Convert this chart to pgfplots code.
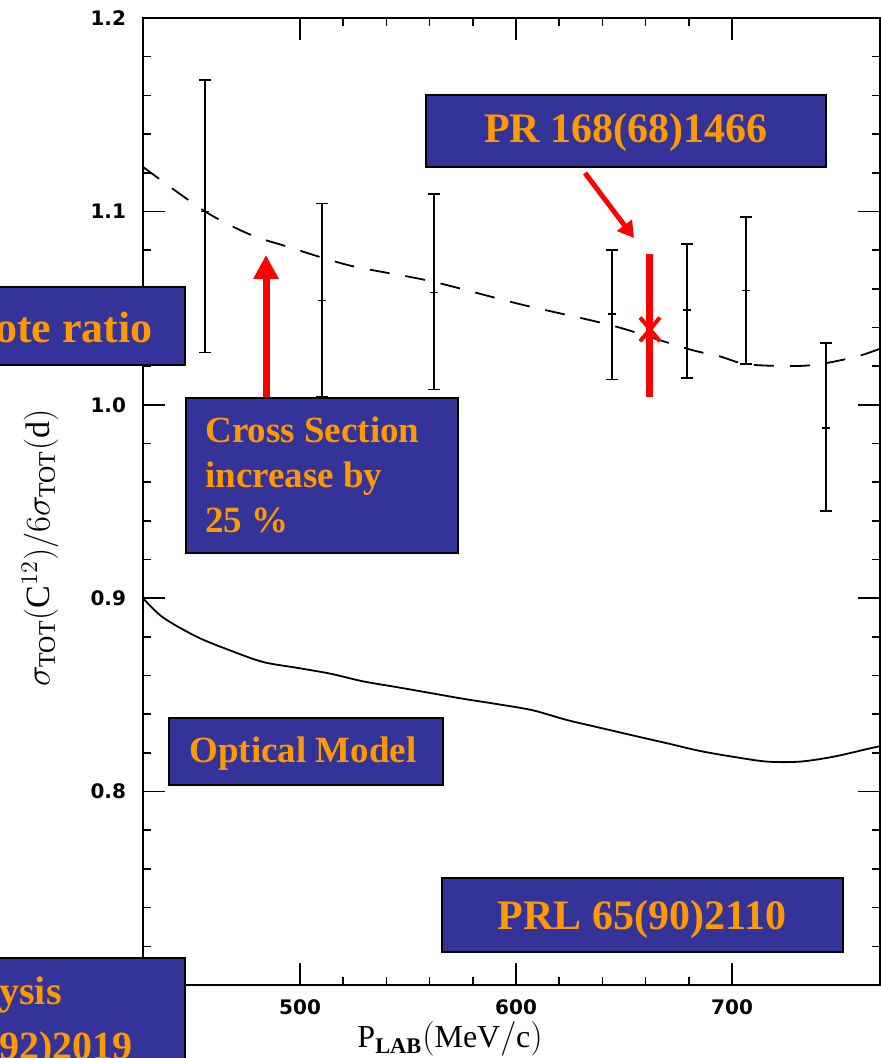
\documentclass[border=0pt]{standalone}
\usepackage{fontspec}
\setmainfont{Liberation Serif}
\newfontfamily\tickfont{DejaVu Sans}
\usepackage{pgfplots}
\usepackage{pgfplotstable}
\pgfplotsset{compat=1.18}
\usetikzlibrary{arrows.meta}

\definecolor{boxblue}{RGB}{51,51,153}
\definecolor{boxorange}{RGB}{255,153,0}

\tikzset{
  ann/.style={draw=black, line width=1pt, fill=boxblue},
  anntext/.style={text=boxorange, inner sep=0pt},
}

% measured points: x, ratio, upper and lower error
\pgfplotstableread{
x     y      ep     em
456.0 1.100  0.068  0.073
510.2 1.054  0.050  0.050
562.0 1.058  0.051  0.050
644.4 1.047  0.033  0.034
679.2 1.049  0.034  0.035
706.5 1.059  0.038  0.038
743.5 0.988  0.044  0.043
}\datatable

\begin{document}
\begin{tikzpicture}[x=1pt,y=1pt]
\useasboundingbox (0,0) rectangle (440.5,529);
\clip (0,0) rectangle (440.5,529);

\begin{axis}[
    at={(71.5pt,36.5pt)}, anchor=south west,
    width=368.5pt, height=483.5pt, scale only axis,
    xmin=427.3, xmax=768.5,
    ymin=0.7, ymax=1.2,
    xtick={500,600,700},
    ytick={0.7,0.8,0.9,1.0,1.1,1.2},
    minor x tick num=4,
    minor y tick num=4,
    tick align=inside,
    major tick length=11pt,
    minor tick length=4pt,
    every tick/.style={black, line width=0.8pt},
    axis line style={line width=1pt},
    /pgf/number format/assume math mode=true,
    /pgf/number format/fixed,
    /pgf/number format/fixed zerofill,
    /pgf/number format/precision=1,
    xticklabel={\pgfmathprintnumber[fixed,precision=0]{\tick}},
    ticklabel style={font=\tickfont\bfseries\fontsize{10}{12}\selectfont},
    yticklabel style={xshift=-5pt},
    xticklabel style={yshift=-4pt},
    xlabel={$\mathrm{P}_{\mathbf{LAB}}\mathrm{(MeV/c)}$},
    xlabel style={at={(axis description cs:0.4166,0)}, anchor=north, yshift=-15pt,
                  font=\fontsize{16}{18}\selectfont},
    ylabel={$\sigma_{\mathrm{TOT}}(\mathrm{C}^{12})/6\sigma_{\mathrm{TOT}}(\mathrm{d})$},
    ylabel style={at={(axis description cs:0,0.452)}, anchor=center, yshift=51.5pt,
                  font=\fontsize{17}{19}\selectfont},
]

% optical model (solid)
\addplot[black, line width=0.9pt, smooth] coordinates {
    (427.3,0.900) (436.6,0.890) (452.3,0.880) (467.6,0.873) (482.9,0.867)
    (498.6,0.864) (513.9,0.861) (529.2,0.857) (544.9,0.854) (560.2,0.851)
    (575.5,0.848) (592.6,0.845) (607.9,0.842) (623.6,0.837) (638.9,0.833)
    (654.2,0.829) (669.9,0.825) (685.2,0.821) (700.5,0.818) (716.2,0.8155)
    (731.5,0.8155) (746.8,0.818) (762.5,0.822) (768.5,0.8235)
};

% dashed curve
\addplot[black, line width=0.9pt, dash pattern=on 10pt off 8pt, smooth] coordinates {
    (427.3,1.123) (456.0,1.100) (476.9,1.088) (493.5,1.082) (523.1,1.072)
    (560.2,1.064) (601.9,1.052) (644.4,1.041) (679.2,1.029) (694.4,1.025)
    (706.5,1.021) (726.9,1.020) (740.7,1.021) (757.9,1.025) (768.5,1.029)
};

% data with error bars
\addplot[black, only marks, mark=-, mark size=2pt, mark options={line width=0.8pt},
    error bars/.cd, y dir=both, y explicit,
    error bar style={line width=0.75pt},
    error mark options={rotate=90, mark size=3pt, line width=0.8pt}]
    table[x=x, y=y, y error plus=ep, y error minus=em] {\datatable};

% PR 168(68)1466 point
\addplot[red, only marks, mark=x, mark size=7pt, mark options={line width=2pt, yscale=1.2},
    error bars/.cd, y dir=both, y explicit,
    error bar style={line width=3.5pt, red}, error mark=none]
    coordinates {(662.0,1.039) += (0,0.039) -= (0,0.035)};
\end{axis}

% arrows
\draw[red, line width=3.5pt, -{Triangle[length=12pt,width=12pt]}] (133,330.5) -- (133,401.5);
\draw[red, line width=2.5pt, -{Triangle[length=8pt,width=9pt]}] (292.5,442.5) -- (317,410);

% annotation boxes
\filldraw[ann] (213,445.5) rectangle (413,481.5);
\node[anntext, anchor=base, font=\bfseries\fontsize{21}{25}\selectfont] at (313,457.5) {PR 168(68)1466};

\filldraw[ann] (-100,346.5) rectangle (92.5,385.5);
\node[anntext, anchor=base east, font=\bfseries\fontsize{22}{26}\selectfont] at (76.5,357.5) {ote ratio};

\filldraw[ann] (93,252.5) rectangle (229,330);
\node[anntext, anchor=base west, font=\bfseries\fontsize{18.5}{22}\selectfont] at (102.5,307.5) {Cross Section};
\node[anntext, anchor=base west, font=\bfseries\fontsize{18.5}{22}\selectfont] at (102.5,285) {increase by};
\node[anntext, anchor=base west, font=\bfseries\fontsize{18.5}{22}\selectfont] at (102.5,262.5) {25 \%};

\filldraw[ann] (84.5,136.5) rectangle (221.5,170);
\node[anntext, anchor=base, font=\bfseries\fontsize{18.5}{22}\selectfont] at (151.5,147.5) {Optical Model};

\filldraw[ann] (221,53) rectangle (421.5,90);
\node[anntext, anchor=base, font=\bfseries\fontsize{21}{25}\selectfont] at (321,64) {PRL 65(90)2110};

\filldraw[ann] (-100,-21) rectangle (92.5,50);
\node[anntext, anchor=base east, font=\bfseries\fontsize{20}{24}\selectfont] at (31,26.5) {Analysis};
\node[anntext, anchor=base east, font=\bfseries\fontsize{20}{24}\selectfont] at (66.5,-1) {PRC 45(92)2019};
\end{tikzpicture}
\end{document}
